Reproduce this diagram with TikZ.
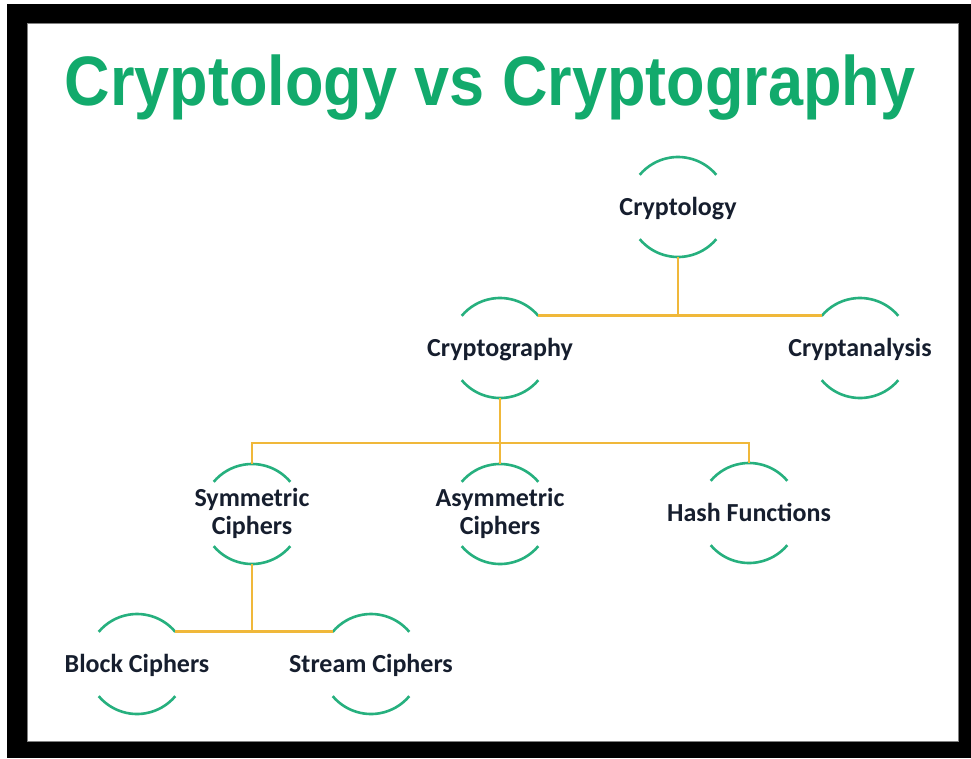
\documentclass[tikz,border=0pt]{standalone}
\usepackage{fontspec}
\setmainfont{Carlito}
\newfontfamily\titlefont{Liberation Sans}
\definecolor{tgreen}{RGB}{18,170,108}
\definecolor{ringgreen}{RGB}{38,176,126}
\definecolor{goldline}{RGB}{240,184,58}
\definecolor{navytext}{RGB}{22,30,46}
\begin{document}
\begin{tikzpicture}[x=1pt,y=-1pt,
  ring/.style={circle,minimum size=100pt,inner sep=0pt,outer sep=0pt,draw=none},
  arcline/.style={draw=ringgreen,line width=2.6pt},
  conn/.style={draw=goldline,line width=2.8pt},
  lbl/.style={anchor=base,text=navytext,align=center,inner sep=0pt,
    font=\bfseries\fontsize{26}{28}\selectfont}]
\useasboundingbox (0,0) rectangle (971,758);
\fill[white] (0,0) rectangle (971,758);
\fill[black] (7,4) rectangle (971,758);
\filldraw[fill=white,draw=gray,line width=0.8pt] (27,23) rectangle (958,741);
\node[anchor=base,text=tgreen,inner sep=0pt,font=\titlefont\bfseries\fontsize{70}{84}\selectfont] (title) at (490,105) {\scalebox{0.9}[1]{Cryptology vs Cryptography}};
% rings
\node[ring] (cryptology) at (678,207) {};
\node[ring] (cryptography) at (500,348) {};
\node[ring] (cryptanalysis) at (860,348) {};
\node[ring] (symmetric) at (252,514) {};
\node[ring] (asymmetric) at (500,514) {};
\node[ring] (hash) at (749,513) {};
\node[ring] (block) at (137,664) {};
\node[ring] (stream) at (371,664) {};
\foreach \n in {cryptology,cryptography,cryptanalysis,symmetric,asymmetric,hash,block,stream}{
  \draw[arcline] (\n.40) arc[start angle=40,end angle=140,radius=50pt];
  \draw[arcline] (\n.220) arc[start angle=220,end angle=320,radius=50pt];
}
% labels
\node[lbl] (cryptology-t) at (678,215) {Cryptology};
\node[lbl] (cryptography-t) at (500,356) {Cryptography};
\node[lbl] (cryptanalysis-t) at (860,356) {Cryptanalysis};
\node[lbl] (symmetric-t) at (252,534) {Symmetric\\Ciphers};
\node[lbl] (asymmetric-t) at (500,534) {Asymmetric\\Ciphers};
\node[lbl] (hash-t) at (749,521) {Hash Functions};
\node[lbl] (block-t) at (137,672) {Block Ciphers};
\node[lbl] (stream-t) at (371,672) {Stream Ciphers};
% connectors
\coordinate (j1) at (678,317);
\coordinate (j2) at (500,443);
\coordinate (j3) at (252,633);
\draw[conn] (cryptology.south) -- (j1);
\draw[conn] (cryptography.40) -- (cryptanalysis.140);
\draw[conn] (cryptography.south) -- (asymmetric.north);
\draw[conn] (symmetric.north) -- (symmetric.north |- j2) -- (hash.north |- j2) -- (hash.north);
\draw[conn] (symmetric.south) -- (j3);
\draw[conn] (block.40) -- (stream.140);
\end{tikzpicture}
\end{document}
